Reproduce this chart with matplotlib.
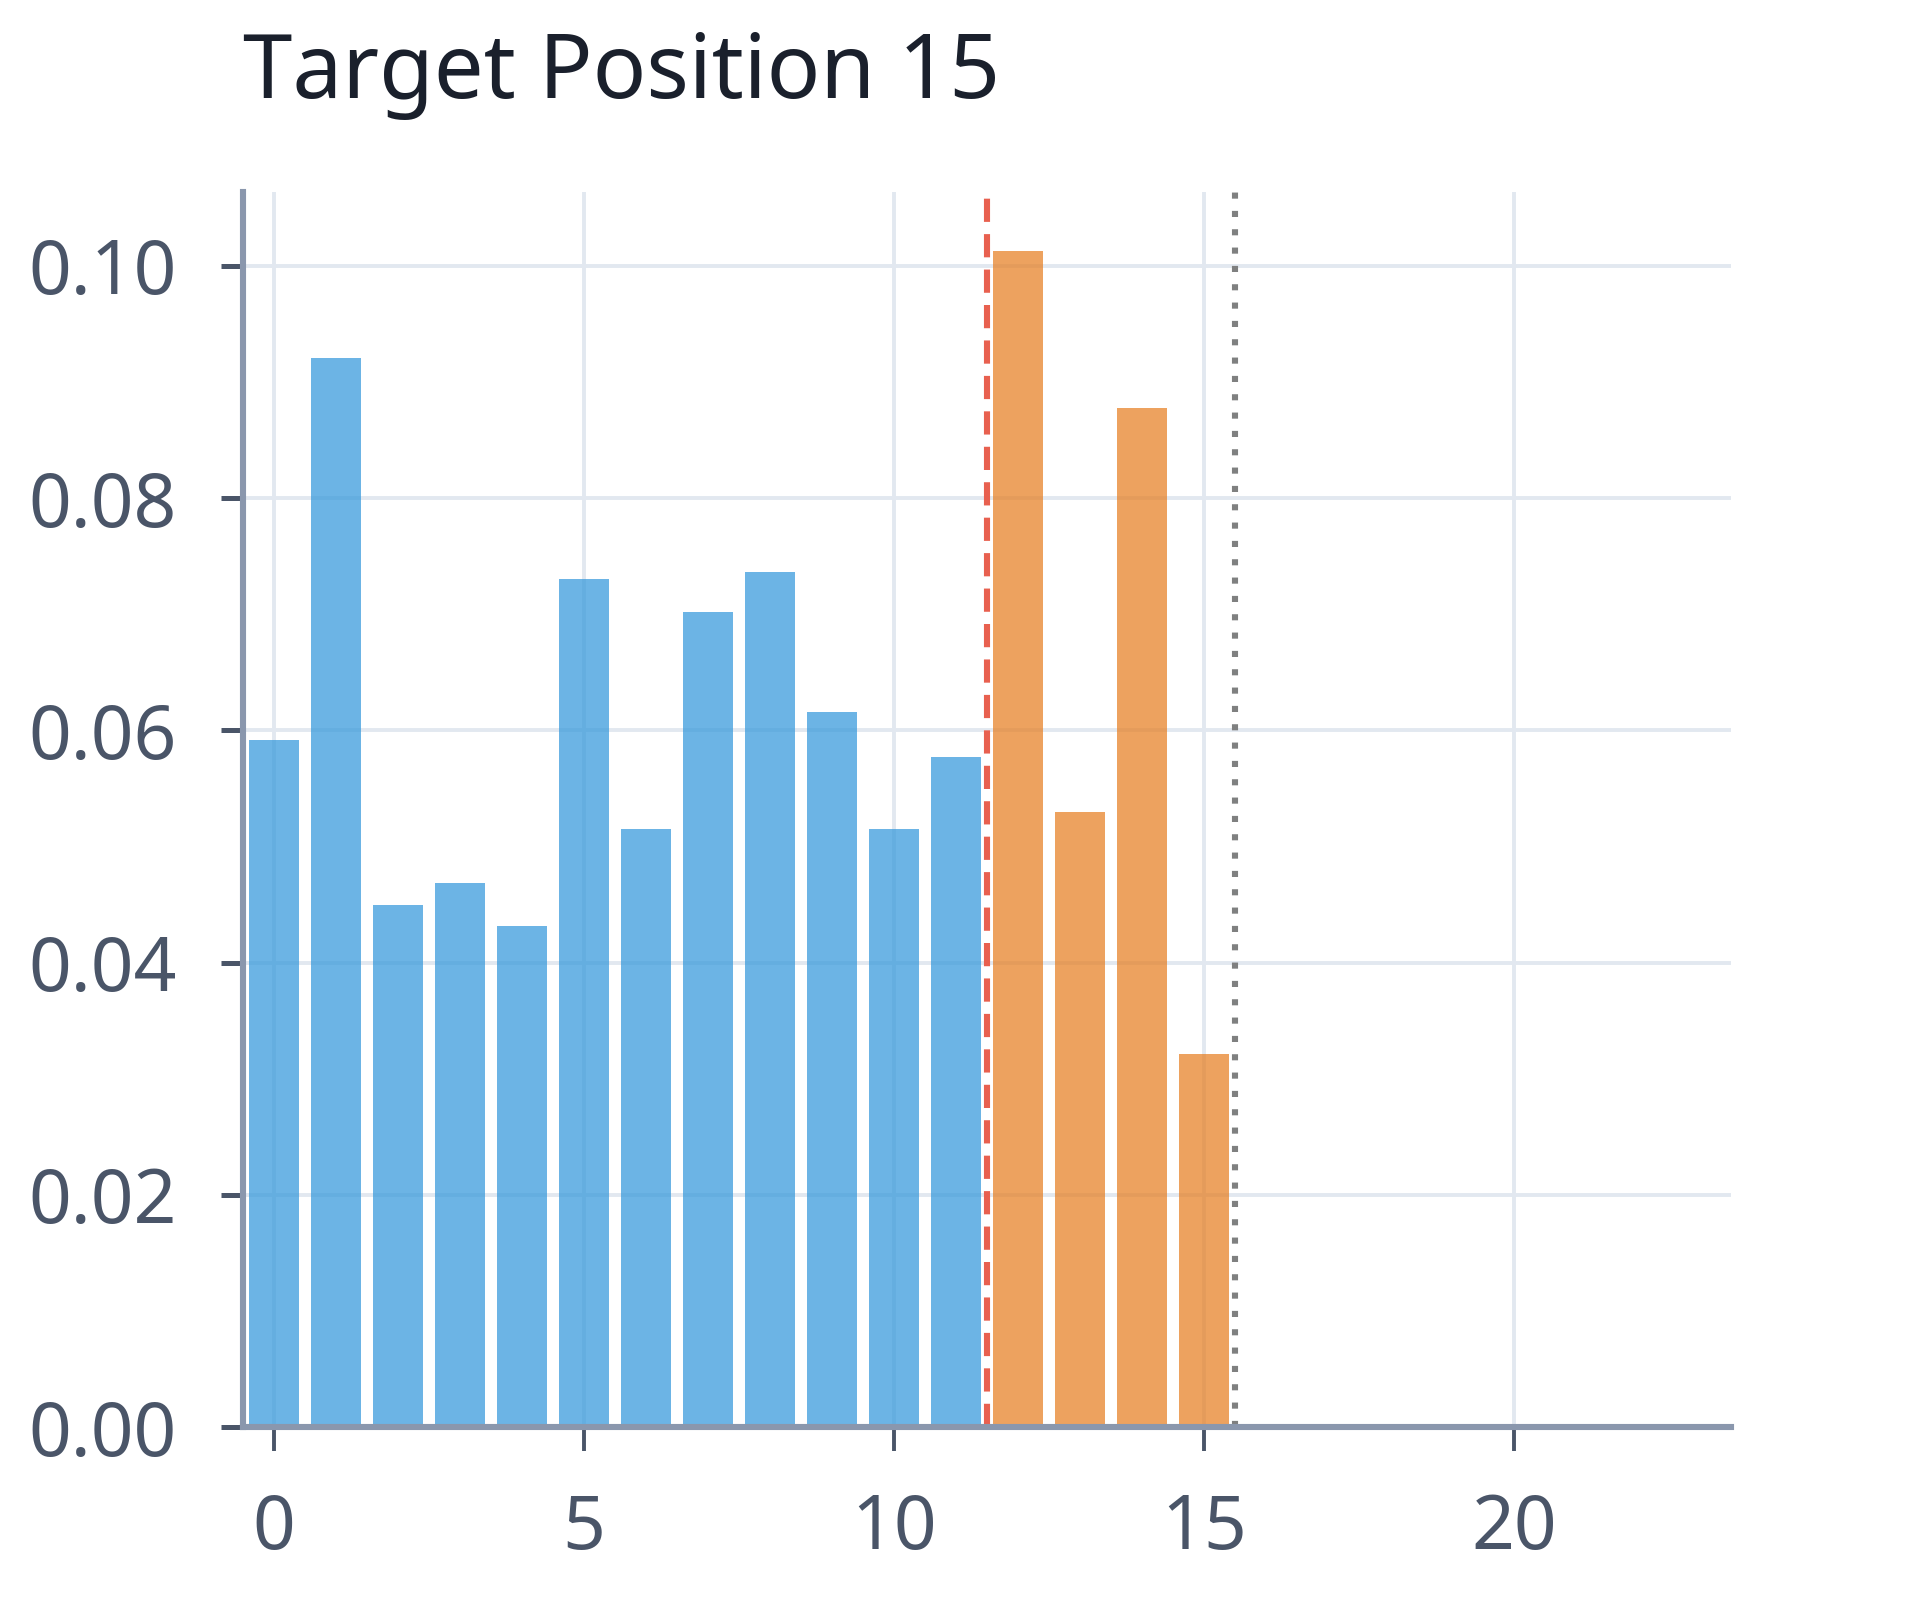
import numpy as np
import matplotlib
matplotlib.use("Agg")
import matplotlib.pyplot as plt

# attention weights per position
positions = np.arange(16)
weights = [0.0592, 0.0921, 0.0450, 0.0469, 0.0432, 0.0730, 0.0515, 0.0702,
           0.0736, 0.0616, 0.0515, 0.0577, 0.1013, 0.0530, 0.0878, 0.0321]
split_at = 11.5      # red dashed marker
target_edge = 15.5   # grey dotted marker
title = "Target Position 15"
xticks = [0, 5, 10, 15, 20]
yticks = [0.00, 0.02, 0.04, 0.06, 0.08, 0.10]

plt.rcParams['font.family'] = ['Noto Sans', 'DejaVu Sans']

fig = plt.figure(figsize=(9.6, 8), dpi=200)
ax = fig.add_axes([0.1266, 0.108, 0.775, 0.772])

colors = ['#3498db' if p < split_at else '#e67e22' for p in positions]
ax.bar(positions, weights, width=0.8, color=colors, alpha=0.72, zorder=2)

ax.axvline(split_at, color='#e8604f', lw=2.2, linestyle=(0, (3.8, 2)), zorder=3)
ax.axvline(target_edge, color='#7f8080', lw=2.2, linestyle=(0, (1, 2)), zorder=3)

ax.set_xlim(-0.5, 23.5)
ax.set_ylim(0, max(weights) * 1.05)
ax.set_xticks(xticks)
ax.set_yticks(yticks)
ax.set_yticklabels(["%.2f" % v for v in yticks])

ax.grid(True, color='#e2e8f0', lw=1.4, zorder=0)
ax.set_axisbelow(True)
for s in ['top', 'right']:
    ax.spines[s].set_visible(False)
for s in ['left', 'bottom']:
    ax.spines[s].set_color('#8a97ad')
    ax.spines[s].set_linewidth(2.2)
    ax.spines[s].set_zorder(4)

ax.tick_params(axis='y', length=8, width=1.8, color='#4a5568',
               labelcolor='#4a5568', labelsize=27, pad=16)
ax.tick_params(axis='x', length=8.5, width=1.4, color='#4a5568',
               labelcolor='#4a5568', labelsize=27, pad=15)

ax.set_title(title, loc='left', fontsize=32, color='#1a202c', pad=34)

plt.savefig('out.png', dpi=200)
